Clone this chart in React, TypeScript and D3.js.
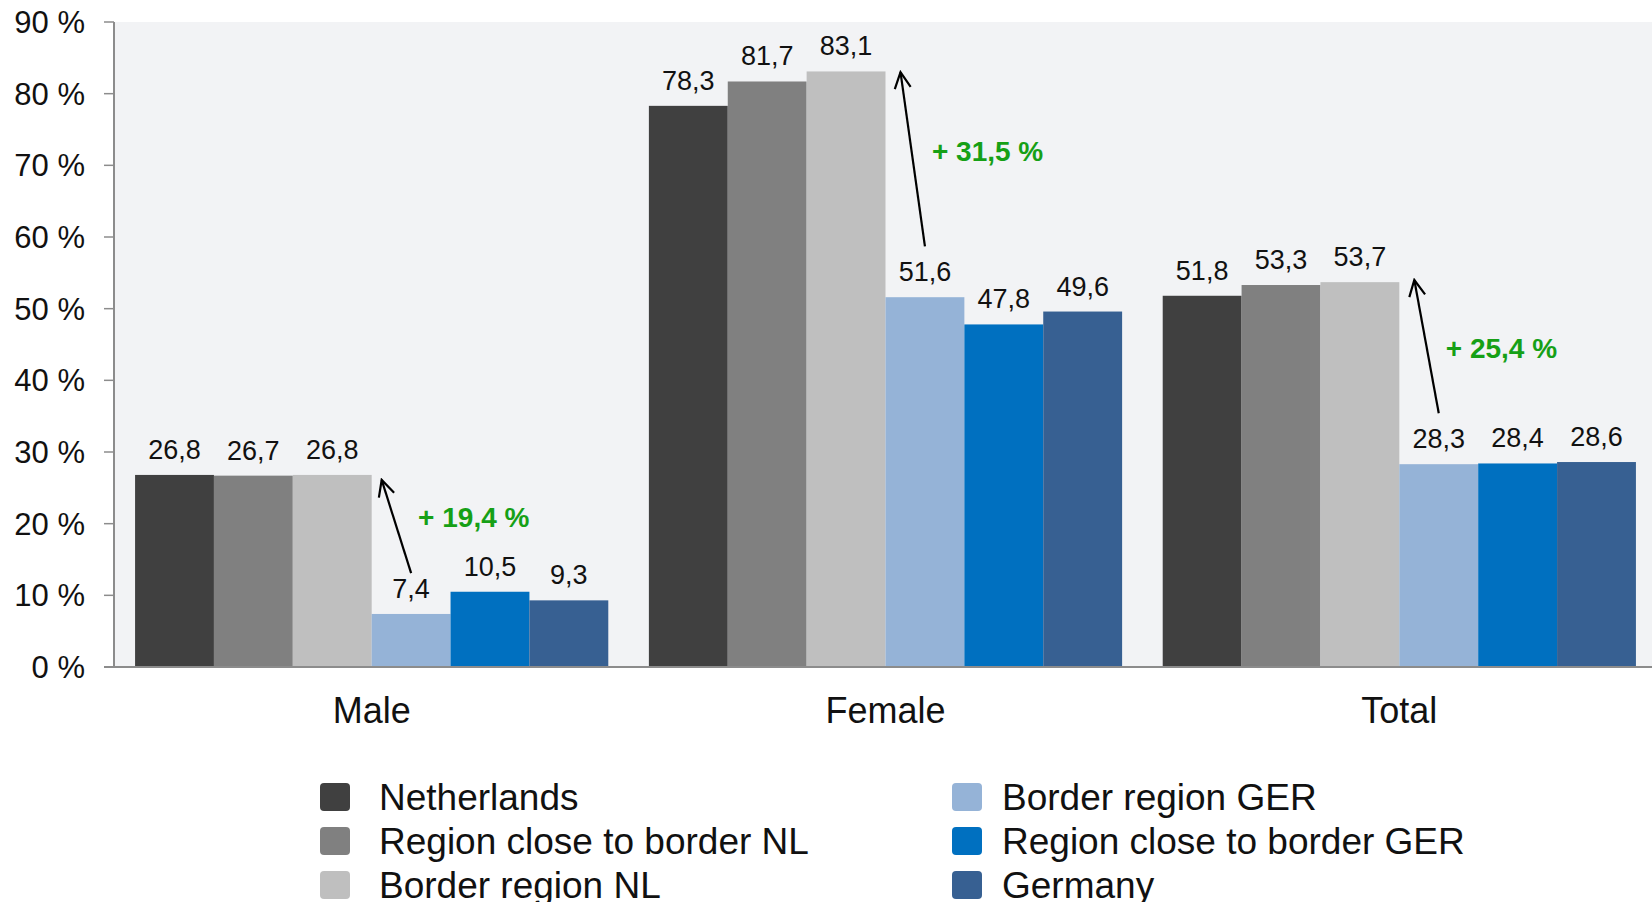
import React from "react";
import * as d3 from "d3";

const categories = ["Male", "Female", "Total"];
const seriesNames = [
  "Netherlands",
  "Region close to border NL",
  "Border region NL",
  "Border region GER",
  "Region close to border GER",
  "Germany",
];
const seriesColors = ["#404040", "#808080", "#BFBFBF", "#95B3D7", "#0070C0", "#376092"];
// values[series][category]
const netherlands = [26.8, 78.3, 51.8];
const closeNL = [26.7, 81.7, 53.3];
const borderNL = [26.8, 83.1, 53.7];
const borderGER = [7.4, 51.6, 28.3];
const closeGER = [10.5, 47.8, 28.4];
const germany = [9.3, 49.6, 28.6];
const seriesValues = [netherlands, closeNL, borderNL, borderGER, closeGER, germany];
const yTicks = [0, 10, 20, 30, 40, 50, 60, 70, 80, 90];
// arrows: from (y value at bottom, over series 3) to (y value at tip, right of series 2)
const arrowFrom = [13.1, 58.7, 35.4];
const arrowTo = [26.1, 83.0, 54.0];
const arrowLabelAt = [19.5, 70.6, 43.1];
const arrowLabels = ["+ 19,4 %", "+ 31,5 %", "+ 25,4 %"];

const W = 1652;
const H = 902;
const plotLeft = 114;
const plotRight = 1652;
const plotTop = 22;
const plotBottom = 667;
const FONT = "'Liberation Sans', Arial, Helvetica, sans-serif";

export default function App() {
  const y = d3.scaleLinear().domain([0, 90]).range([plotBottom, plotTop]);
  const x0 = d3
    .scaleBand<string>()
    .domain(categories)
    .range([plotLeft, 1657])
    .paddingInner(0.079)
    .paddingOuter(0.041);
  const x1 = d3
    .scaleBand<number>()
    .domain(d3.range(seriesNames.length))
    .range([0, x0.bandwidth()])
    .padding(0);

  const legendCols = [
    { swX: 320, txX: 379 },
    { swX: 952, txX: 1002 },
  ];
  const legendRows = [797, 841, 885];

  return (
    <svg
      width={W}
      height={H}
      style={{ position: "absolute", left: 0, top: 0, display: "block", background: "#fff" }}
      fontFamily={FONT}
    >
      <rect x={plotLeft} y={plotTop} width={plotRight - plotLeft} height={plotBottom - plotTop} fill="#F2F3F5" />

      {/* bars */}
      {categories.map((c, ci) => (
        <g key={c} transform={`translate(${x0(c)},0)`}>
          {seriesValues.map((vals, si) => (
            <g key={si}>
              <rect
                x={x1(si)!}
                y={y(vals[ci])}
                width={x1.bandwidth()}
                height={y(0) - y(vals[ci])}
                fill={seriesColors[si]}
              />
              <text
                x={x1(si)! + x1.bandwidth() / 2}
                y={y(vals[ci]) - 16}
                textAnchor="middle"
                fontSize={27}
                fill="#111"
              >
                {vals[ci].toFixed(1).replace(".", ",")}
              </text>
            </g>
          ))}
        </g>
      ))}

      {/* axis */}
      <line x1={plotLeft} x2={plotLeft} y1={plotTop} y2={plotBottom} stroke="#8C8C8C" strokeWidth={2} />
      <line x1={plotLeft - 10} x2={plotRight} y1={plotBottom} y2={plotBottom} stroke="#8C8C8C" strokeWidth={2} />
      {yTicks.map((t) => (
        <g key={t}>
          <line x1={plotLeft - 10} x2={plotLeft} y1={y(t)} y2={y(t)} stroke="#8C8C8C" strokeWidth={1.5} />
          <text x={85} y={y(t)} dy="0.36em" textAnchor="end" fontSize={31} fill="#111">
            {`${t} %`}
          </text>
        </g>
      ))}
      {categories.map((c) => (
        <text key={c} x={x0(c)! + x0.bandwidth() / 2} y={723} textAnchor="middle" fontSize={36} fill="#111">
          {c}
        </text>
      ))}

      {/* arrows */}
      <defs>
        <marker id="openArrow" viewBox="0 0 20 20" refX="18" refY="10" markerWidth="20" markerHeight="20" markerUnits="userSpaceOnUse" orient="auto">
          <path d="M2,2 L18,10 L2,18" fill="none" stroke="#000" strokeWidth={2.2} />
        </marker>
      </defs>
      {categories.map((c, ci) => {
        const bx = x0(c)! + x1(3)! + x1.bandwidth() / 2;
        const by = y(arrowFrom[ci]);
        const tx = x0(c)! + x1(2)! + x1.bandwidth() + (ci === 0 ? 10 : 15);
        const ty = y(arrowTo[ci]);
        return (
          <g key={`arr-${c}`}>
            <line x1={bx} y1={by} x2={tx} y2={ty} stroke="#000" strokeWidth={2.2} markerEnd="url(#openArrow)" />
            <text x={bx + 7} y={y(arrowLabelAt[ci])} fontSize={28} fontWeight="bold" fill="#16A016">
              {arrowLabels[ci]}
            </text>
          </g>
        );
      })}

      {/* legend */}
      {seriesNames.map((name, i) => {
        const col = legendCols[Math.floor(i / 3)];
        const cy = legendRows[i % 3];
        return (
          <g key={name}>
            <rect x={col.swX} y={cy - 14} width={30} height={28} rx={4} fill={seriesColors[i]} />
            <text x={col.txX} y={cy} dy="0.36em" fontSize={37} fill="#111">
              {name}
            </text>
          </g>
        );
      })}
    </svg>
  );
}
